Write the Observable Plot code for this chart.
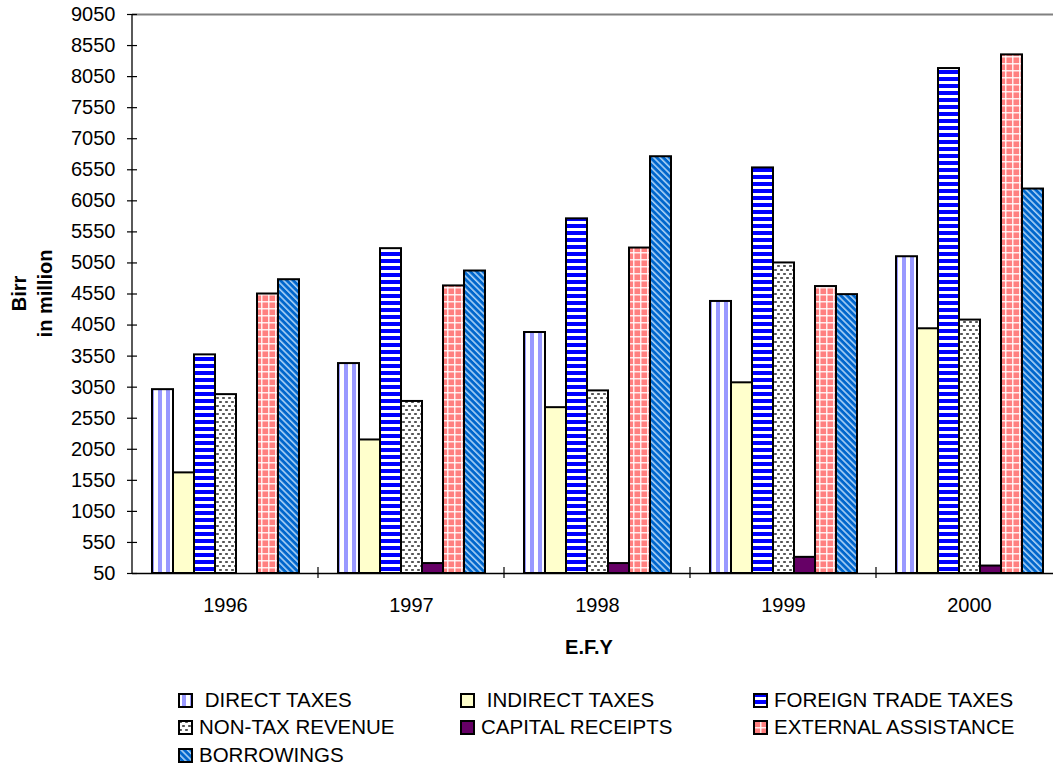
<!DOCTYPE html>
<html>
<head>
<meta charset="utf-8">
<script src="https://cdn.jsdelivr.net/npm/d3@7"></script>
<script src="https://cdn.jsdelivr.net/npm/@observablehq/plot@0.6"></script>
<style>
html, body { margin: 0; padding: 0; background: #fff; overflow: hidden; width: 1053px; height: 765px; }
#wrap { position: relative; width: 1053px; height: 765px; overflow: hidden; font-family: "Liberation Sans", Arial, sans-serif; }
#chart { position: absolute; left: 0; top: 0; width: 1064px; }
#chart svg { max-width: none !important; }
.leg { position: absolute; display: flex; align-items: center; font-size: 20.5px; white-space: pre; color: #000; line-height: 1; }
.leg svg { margin-right: 6px; flex: none; }
</style>
</head>
<body>
<svg width="0" height="0" style="position:absolute">
  <defs>
    <pattern id="pDirect" width="8" height="8" patternUnits="userSpaceOnUse">
      <rect width="8" height="8" fill="#ffffff"/>
      <rect x="4" width="4" height="8" fill="#9999ff"/>
    </pattern>
    <pattern id="pForeign" width="7" height="7" patternUnits="userSpaceOnUse">
      <rect width="7" height="7" fill="#ffffff"/>
      <rect width="7" height="4" fill="#0000ff"/>
    </pattern>
    <pattern id="pNonTax" width="6" height="8" patternUnits="userSpaceOnUse">
      <rect width="6" height="8" fill="#ffffff"/>
      <rect x="1" y="1" width="3" height="2" rx="0.8" fill="#555555"/>
      <rect x="4" y="5" width="3" height="2" rx="0.8" fill="#555555"/>
      <rect x="-2" y="5" width="3" height="2" rx="0.8" fill="#555555"/>
    </pattern>
    <pattern id="pExternal" width="7" height="7" patternUnits="userSpaceOnUse">
      <rect width="7" height="7" fill="#ff8080"/>
      <rect width="7" height="1.5" fill="#ffffff" opacity="0.85"/>
      <rect width="1.5" height="7" fill="#ffffff" opacity="0.85"/>
    </pattern>
    <pattern id="pBorrow" width="4.5" height="10" patternUnits="userSpaceOnUse" patternTransform="rotate(-45)">
      <rect width="4.5" height="10" fill="#0066cc"/>
      <rect width="1.6" height="10" fill="#a8d0f5"/>
    </pattern>
  </defs>
</svg>
<div id="wrap"><div id="chart"></div></div>
<script>
// ---- data ----
const years = ["1996", "1997", "1998", "1999", "2000"];
const series = ["DIRECT TAXES", "INDIRECT TAXES", "FOREIGN TRADE TAXES", "NON-TAX REVENUE", "CAPITAL RECEIPTS", "EXTERNAL ASSISTANCE", "BORROWINGS"];
const directTaxes        = [3010, 3430, 3930, 4430, 5150];
const indirectTaxes      = [1670, 2200, 2720, 3120, 3990];
const foreignTradeTaxes  = [3570, 5280, 5760, 6580, 8180];
const nonTaxRevenue      = [2930, 2820, 2990, 5050, 4130];
const capitalReceipts    = [0, 210, 210, 310, 170];
const externalAssistance = [4550, 4680, 5290, 4670, 8400];
const borrowings         = [4780, 4920, 6760, 4540, 6240];
const yTicks = [50, 550, 1050, 1550, 2050, 2550, 3050, 3550, 4050, 4550, 5050, 5550, 6050, 6550, 7050, 7550, 8050, 8550, 9050];
const legendLabels = [" DIRECT TAXES", " INDIRECT TAXES", "FOREIGN TRADE TAXES", "NON-TAX REVENUE", "CAPITAL RECEIPTS", "EXTERNAL ASSISTANCE", "BORROWINGS"];

const seriesValues = [directTaxes, indirectTaxes, foreignTradeTaxes, nonTaxRevenue, capitalReceipts, externalAssistance, borrowings];
const fills = ["url(#pDirect)", "#ffffcc", "url(#pForeign)", "url(#pNonTax)", "#660066", "url(#pExternal)", "url(#pBorrow)"];

const data = [];
years.forEach((yr, i) => {
  series.forEach((s, j) => {
    const v = seriesValues[j][i];
    if (v > 0) data.push({year: yr, series: s, value: v});
  });
});

const font = '"Liberation Sans", Arial, sans-serif';
const chart = Plot.plot({
  width: 1064,
  height: 680,
  marginLeft: 130,
  marginRight: 0,
  marginTop: 14,
  marginBottom: 107,
  style: {fontFamily: font, fontSize: "20px", background: "transparent", overflow: "visible", maxWidth: "none"},
  fx: {domain: years, paddingInner: 0, paddingOuter: 0, label: null},
  x: {domain: series, paddingInner: 0, paddingOuter: 0.745, axis: null},
  y: {domain: [50, 9050], label: null},
  color: {type: "ordinal", domain: series, range: fills},
  marks: [
    Plot.ruleY([9050], {stroke: "#808080", strokeWidth: 2}),
    Plot.barY(data, {fx: "year", x: "series", y1: 50, y2: "value", fill: "series", stroke: "#000", strokeWidth: 2}),
    Plot.ruleY([50], {stroke: "#000", strokeWidth: 1.3}),
    Plot.axisY({ticks: yTicks, tickSize: 10, dx: 5, tickFormat: () => "", strokeWidth: 1.2}),
    Plot.axisY({ticks: yTicks, tickSize: 0, tickPadding: 17, fontSize: 20, tickFormat: d => String(d)}),
    Plot.axisFx({anchor: "bottom", tickSize: 0, tickPadding: 24, fontSize: 20, label: null})
  ]
});
document.getElementById("chart").appendChild(chart);

// axis line and category ticks from the plot's own scales
const svg = d3.select(chart);
const fx = chart.scale("fx");
const y = chart.scale("y");
const x0 = fx.apply(years[0]);
const yBase = y.apply(50);
const yTop = y.apply(9050);
svg.append("line").attr("x1", x0).attr("x2", x0).attr("y1", yTop).attr("y2", yBase)
  .attr("stroke", "#000").attr("stroke-width", 1.3);
years.slice(1).forEach(yr => {
  const bx = fx.apply(yr);
  svg.append("line").attr("x1", bx).attr("x2", bx).attr("y1", yBase - 6).attr("y2", yBase + 5)
    .attr("stroke", "#000").attr("stroke-width", 1.2);
});

// axis titles
const yMid = (yBase + yTop) / 2;
svg.append("text").attr("transform", `translate(25.5,${yMid}) rotate(-90)`).attr("text-anchor", "middle")
  .attr("font-family", font).attr("font-weight", "bold").attr("font-size", 20).text("Birr");
svg.append("text").attr("transform", `translate(52,${yMid}) rotate(-90)`).attr("text-anchor", "middle")
  .attr("font-family", font).attr("font-weight", "bold").attr("font-size", 20).text("in million");
svg.append("text").attr("x", (130 + 1048) / 2).attr("y", 654).attr("text-anchor", "middle")
  .attr("font-family", font).attr("font-weight", "bold").attr("font-size", 20).text("E.F.Y");

// legend (HTML, below the svg)
const wrap = document.getElementById("wrap");
const colX = [178, 460, 753];
const rowY = [700, 727.5, 755];
series.forEach((s, j) => {
  const col = j % 3, row = Math.floor(j / 3);
  const div = document.createElement("div");
  div.className = "leg";
  div.style.left = colX[col] + "px";
  div.style.top = (rowY[row] - 11) + "px";
  div.style.height = "22px";
  div.innerHTML = `<svg width="15" height="15"><rect x="1" y="1" width="13" height="13" fill="${fills[j]}" stroke="#000" stroke-width="2"/></svg><span>${legendLabels[j]}</span>`;
  wrap.appendChild(div);
});
</script>
</body>
</html>
